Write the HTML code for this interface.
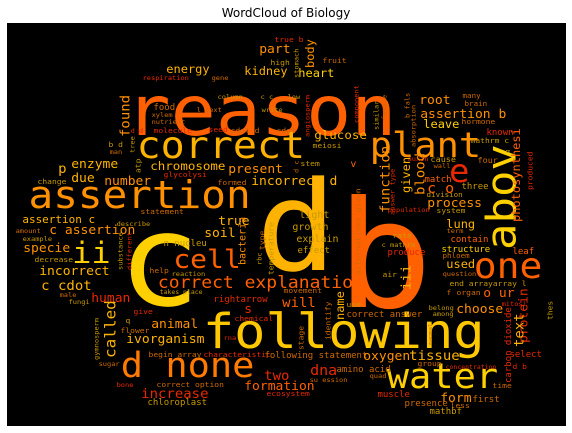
<!DOCTYPE html>
<html>
<head>
<meta charset="utf-8">
<style>
  html,body{margin:0;padding:0;background:#fff;}
  body{width:572px;height:433px;overflow:hidden;}
  svg{display:block;}
  .w{font-family:"DejaVu Sans Mono","Liberation Mono",monospace;}
</style>
</head>
<body>
<svg id="chart" width="572" height="433" viewBox="0 0 572 433" xmlns="http://www.w3.org/2000/svg">
  <text x="286" y="17" text-anchor="middle" font-family="DejaVu Sans, Liberation Sans, sans-serif" font-size="12" fill="#000">WordCloud of Biology</text>
  <rect x="7" y="23" width="559" height="403" fill="#000"/>
  <g id="words"></g>
</svg>
<script>
const Y='#ffd000', G='#ffb300', O='#ff9000', D='#ff6000', R='#e82800', S='#c89a00', T='#d06a00';
const words = [
 ["reason",130,135,75,D,0],
 ["correct",139,158,40,G,0],
 ["plant",372,157,37,O,0],
 ["assertion",31,208,41,O,0],
 ["c",126,305,138,Y,0],
 ["d",264,270,134,G,0],
 ["b",346,307,160,D,0],
 ["following",206,348,52,'#ffc800',0],
 ["water",389,388,37,Y,0],
 ["d none",123,377,37,'#ff7a00',0],
 ["one",476,278,38,D,0],
 ["e",451,182,34,R,0],
 ["ii",74,263,32,Y,0],
 ["cell",175,268,28,D,0],
 ["correct explanation",159,288,18,D,0],
 ["true b",275,42,8,R,0],
 ["part",260,53,13,O,0],
 ["fruit",323,63,8,T,0],
 ["high",271,65,8,S,0],
 ["energy",167,73,12,G,0],
 ["kidney",245,75,12,G,0],
 ["heart",299,77,12,Y,0],
 ["respiration",143,80,7,R,0],
 ["gene",212,80,7,T,0],
 ["root",420,104,13,O,0],
 ["assertion b",421,118,13,O,0],
 ["many",463,98,7.5,T,0],
 ["brain",465,106,7.5,T,0],
 ["column",218,99,7,S,0],
 ["c c",261,99,7,S,0],
 ["low",288,99,7,S,0],
 ["food",154,110,9,T,0],
 ["l text",197,112,7,T,0],
 ["write",262,112,7,S,0],
 ["xylem",152,117,7,T,0],
 ["nutrient",152,124,7,T,0],
 ["d d",131,133,7,R,0],
 ["molecule",154,133,8,R,0],
 ["seed",209,132,8,R,0],
 ["cdot d",231,133,8,T,0],
 ["cdot",277,133,8,T,0],
 ["hormone",462,124,8,T,0],
 ["leave",424,128,12,Y,0],
 ["glucose",315,139,12.5,G,0],
 ["meiosi",313,148,8,S,0],
 ["b d",109,147,8,S,0],
 ["man",110,154,7,T,0],
 ["enzyme",72,168,13,G,0],
 ["p",59,173,14,G,0],
 ["chromosome",151,170,12.5,G,0],
 ["glycolysi",164,177,8,R,0],
 ["present",229,173,13,O,0],
 ["stem",301,166,8,S,0],
 ["v",351,167,10,D,0],
 ["c o",428,193,15,D,0],
 ["process",428,207,13,O,0],
 ["known",487,135,9,R,0],
 ["mathrm c",471,143,8,S,0],
 ["auxin",408,161,7,R,0],
 ["cause",431,162,8.5,S,0],
 ["four",478,163,8.5,T,0],
 ["wall",434,168,7,T,0],
 ["match",425,182,9,D,0],
 ["three",462,189,9,S,0],
 ["division",427,197,7.5,S,0],
 ["system",437,213,8,S,0],
 ["population",388,212,7,R,0],
 ["lung",447,228,12,G,0],
 ["term",447,233,7,T,0],
 ["contain",451,242,9,D,0],
 ["structure",442,252,9,Y,0],
 ["leaf",513,254,9,D,0],
 ["phloem",443,258,7.5,T,0],
 ["rate",393,238,8,S,0],
 ["c mathrm",382,247,7,S,0],
 ["produce",388,255,9,R,0],
 ["used",447,268,12,G,0],
 ["question",443,276,7,T,0],
 ["air",383,277,8,S,0],
 ["end arrayarray l",450,286,8,S,0],
 ["f",447,295,8,T,0],
 ["organ",457,295,8,T,0],
 ["o ur",484,297,13,D,0],
 ["assertion c",23,223,11,G,0],
 ["c assertion",50,234,13,O,0],
 ["statement",141,214,8,T,0],
 ["describe",117,226,7,S,0],
 ["amount",16,233,7,T,0],
 ["example",23,241,7,S,0],
 ["specie",24,252,13,O,0],
 ["decrease",35,262,8,S,0],
 ["incorrect",40,275,13,G,0],
 ["incorrect d",252,185,13,G,0],
 ["number",105,185,13,O,0],
 ["due",72,182,13,G,0],
 ["change",38,184,8,S,0],
 ["formed",218,185,8,T,0],
 ["c cdot",42,290,14,G,0],
 ["male",60,297,7,T,0],
 ["fungi",69,304,7,S,0],
 ["true",219,225,13,G,0],
 ["soil",205,237,13,G,0],
 ["light",300,218,10,S,0],
 ["growth",293,230,10,S,0],
 ["explain",297,242,10,S,0],
 ["effect",298,253,9,S,0],
 ["n nucleu",164,246,9,S,0],
 ["help",150,273,8,T,0],
 ["reaction",172,276,7,S,0],
 ["takes place",160,294,6.5,S,0],
 ["human",92,302,13,R,0],
 ["rightarrow",214,302,9,R,0],
 ["movement",284,293,8,T,0],
 ["will",283,307,14,D,0],
 ["s",245,313,13,R,0],
 ["give",134,314,8,R,0],
 ["chemical",235,321,8,R,0],
 ["q",126,323,8,S,0],
 ["flower",121,333,8,T,0],
 ["sugar",99,366,7,T,0],
 ["animal",152,328,13,O,0],
 ["ivorganism",127,343,13,G,0],
 ["begin array",149,357,8,T,0],
 ["characteristic",204,357,8,R,0],
 ["following statement",265,358,9,T,0],
 ["two",265,380,14,R,0],
 ["dna",311,375,15,R,0],
 ["increase",142,398,14,R,0],
 ["formation",245,390,13,D,0],
 ["correct option",157,387,8,T,0],
 ["bone",117,387,7,R,0],
 ["chloroplast",148,405,9,S,0],
 ["ecosystem",267,396,8,R,0],
 ["su ession",310,382,7,T,0],
 ["amino acid",337,372,9,T,0],
 ["rna",224,340,7,R,0],
 ["use",347,307,8,S,0],
 ["correct answer",347,317,9,T,0],
 ["oxygen",364,360,13,O,0],
 ["tissue",410,360,14,G,0],
 ["group",418,366,8,T,0],
 ["concentration",446,369,6.5,R,0],
 ["quad",370,378,7,T,0],
 ["muscle",378,397,9,R,0],
 ["presence",405,406,9,T,0],
 ["mathbf",430,414,9,S,0],
 ["form",441,402,13,O,0],
 ["first",473,402,9,T,0],
 ["less",451,408,8,T,0],
 ["time",493,388,8,T,0],
 ["d b",513,369,8,R,0],
 ["select",510,357,9,R,0],
 ["choose",457,313,13,O,0],
 ["belong",429,310,7,S,0],
 ["among",433,316,7,S,0],
 ["mitosi",502,306,7,R,0],
 ["body",306,68,12,O,1],
 ["stomach",294,78,7,S,1],
 ["found",120,137,14,O,1],
 ["tree",130,153,7,S,1],
 ["angiosperm",305,137,7,R,1],
 ["component",354,123,7,R,1],
 ["similar",374,130,7,S,1],
 ["female",382,120,7,T,1],
 ["b fals",405,118,7,T,1],
 ["absorption",411,147,7,T,1],
 ["atp",135,173,8,S,1],
 ["d c",294,173,7,T,1],
 ["abov",486,250,44,Y,1],
 ["function",380,213,14,O,1],
 ["answer type",390,215,7,R,1],
 ["given",402,193,12,G,1],
 ["blood",415,195,14,O,1],
 ["photosynthesi",512,222,12,D,1],
 ["produced",527,190,8,R,1],
 ["g",505,153,6,S,1],
 ["iii",401,290,14,G,1],
 ["protein",519,343,13,R,1],
 ["text",514,347,14,G,1],
 ["thes",547,320,8,S,1],
 ["bacteria",239,265,10,O,1],
 ["type",259,250,8,T,1],
 ["rbc",257,265,7,S,1],
 ["temperature",268,275,8,S,1],
 ["alternatives given",355,275,8,T,1],
 ["substance",118,270,7,S,1],
 ["different",127,270,7,R,1],
 ["called",105,358,16,G,1],
 ["gymnosperm",94,360,7,S,1],
 ["identify",325,340,8,T,1],
 ["stage",298,350,8,T,1],
 ["name",336,320,12,G,1],
 ["mammal",428,345,6,T,1],
 ["carbon dioxide",505,383,9,R,1]
];
const K = 0.93;
const NS = 'http://www.w3.org/2000/svg';
const g = document.getElementById('words');
for (const [txt, x, y, f, col, vert] of words) {
  const t = document.createElementNS(NS, 'text');
  t.setAttribute('class', 'w');
  t.setAttribute('font-size', f);
  t.setAttribute('fill', col);
  let tr;
  if (vert) {
    const ax = x + 0.72 * f * K;
    tr = 'translate(' + ax + ',' + y + ') rotate(-90) scale(1,' + K + ')';
  } else {
    const ax = x - 0.06 * f;
    tr = 'translate(' + ax + ',' + y + ') scale(1,' + K + ')';
  }
  t.setAttribute('transform', tr);
  t.textContent = txt;
  
  
  g.appendChild(t);
}
</script>
</body>
</html>
